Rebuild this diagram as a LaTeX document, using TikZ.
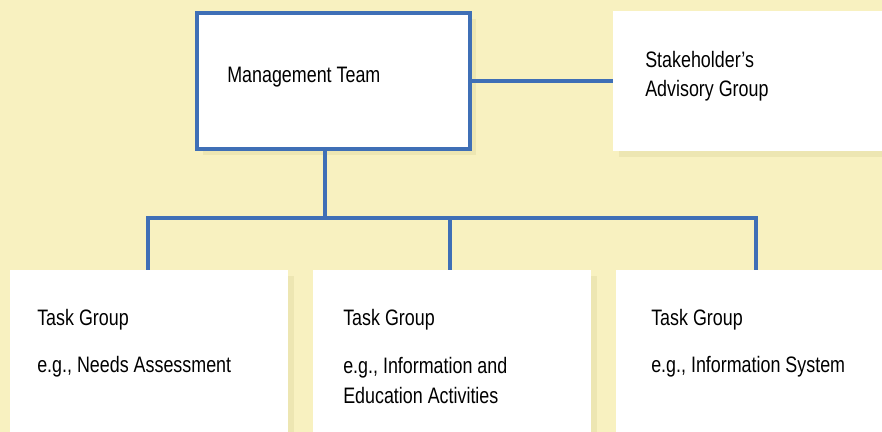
\documentclass[tikz,border=0pt]{standalone}
\usepackage{fontspec}
\setmainfont{Liberation Sans}[FakeStretch=0.8]
\usetikzlibrary{fit,shadows}

\definecolor{paper}{HTML}{F8F1C0}
\definecolor{lineblue}{HTML}{3F6FB6}
\definecolor{shade}{HTML}{E6DFA9}

\tikzset{
  box/.style={rectangle, fill=white, inner sep=0pt,
    drop shadow={shadow xshift=4pt, shadow yshift=-4pt, fill=shade, opacity=.6}},
  lead/.style={draw=lineblue, line width=2.2pt},
  txt/.style={anchor=base west, inner sep=0pt, align=left},
  link/.style={draw=lineblue, line width=2.2pt}
}

\begin{document}
\begin{tikzpicture}[x=0.025cm, y=-0.025cm, font=\fontsize{15.9pt}{21.3pt}\selectfont]
  \useasboundingbox[fill=paper] (0,0) rectangle (882,432);

  % boxes
  \node[box, lead, fit={(197,13) (470,149)}] (MT) {};
  \node[box, fit={(613,11) (882,151)}] (SAG) {};
  \node[box, fit={(10,270) (288,432)}] (TG1) {};
  \node[box, fit={(313,270) (591,432)}] (TG2) {};
  \node[box, fit={(616,270) (882,432)}] (TG3) {};

  % texts (base of a two-line text is its last line)
  \node[txt] (MTtext) at (227,83) {Management Team};
  \node[txt] (SAGtext) at (645,97) {Stakeholder’s\\Advisory Group};
  \node[txt] (TG1head) at (37,326) {Task Group};
  \node[txt] (TG1text) at (37,373) {e.g., Needs Assessment};
  \node[txt] (TG2head) at (343,326) {Task Group};
  \node[txt] (TG2text) at (343,403) {e.g., Information and\\Education Activities};
  \node[txt] (TG3head) at (651,326) {Task Group};
  \node[txt] (TG3text) at (651,373) {e.g., Information System};

  % connectors
  \coordinate (hub) at (325,218);
  \coordinate (drop1) at (148,218);
  \coordinate (drop2) at (450,218);
  \coordinate (drop3) at (756,218);

  \draw[link] (MT.east) -- (SAG.west);
  \draw[link] (MT.south -| hub) -- (hub);
  \draw[link] (drop1 |- TG1.north) -- (drop1) -- (drop3) -- (drop3 |- TG3.north);
  \draw[link] (drop2) -- (drop2 |- TG2.north);
\end{tikzpicture}
\end{document}
